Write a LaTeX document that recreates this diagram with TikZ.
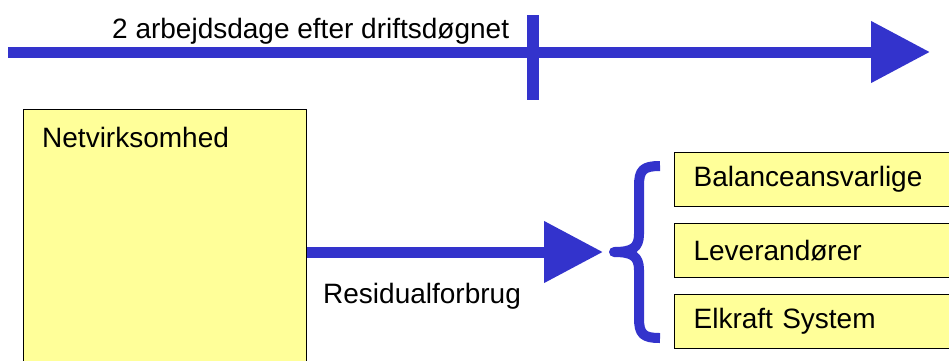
\documentclass[tikz,border=0pt]{standalone}
\usepackage{fontspec}
\setmainfont{Liberation Sans}
\usetikzlibrary{arrows.meta}
\definecolor{flowblue}{HTML}{3333CC}
\definecolor{boxyellow}{HTML}{FFFF99}
\tikzset{
  x=1pt, y=-1pt,
  every node/.style={
    font=\fontsize{28}{32}\selectfont,
    inner sep=0pt
  },
  ybox/.style={
    draw=black,
    fill=boxyellow,
    line width=1.2pt
  },
  rbox/.style={
    ybox,
    anchor=north west,
    minimum height=54pt,
    text width=270pt,
    inner xsep=19pt,
    align=left
  },
  flow/.style={
    draw=flowblue,
    line width=11pt
  },
  flowarrow/.style={
    flow,
    -{Triangle[length=59pt,width=59pt]}
  }
}

\begin{document}
\begin{tikzpicture}
    \useasboundingbox (0,0) rectangle (949,360);
    \begin{scope}
      \clip (0,0) rectangle (949,360);
      % time line
      \coordinate (tstart) at (8,52);
      \coordinate (tend) at (930,52);
      \draw[flowarrow] (tstart) -- (tend);
      \coordinate (ttop) at (533,15);
      \coordinate (tbot) at (533,100);
      \draw[flow, line width=12pt] (ttop) -- (tbot);
      \node[anchor=base west] (tlabel) at (112,38) {2 arbejdsdage efter driftsdøgnet};

      % boxes
      \node[ybox, anchor=north west, minimum width=283pt, minimum height=280pt] (net) at (23,109) {};
      \node[anchor=base west] (netlabel) at (42,147) {Netvirksomhed};
      \node[rbox] (bal) at (674,152) {Balanceansvarlige};
      \node[rbox] (lev) at (674,223) {Leverandører};
      \node[rbox] (elk) at (674,294) {Elkraft System};

      % residual arrow and brace
      \coordinate (rtip) at (603,252);
      \draw[flowarrow] (net.east |- rtip) -- (rtip);
      \node[anchor=base west] (reslabel) at (323,303) {Residualforbrug};
      \coordinate (btop) at (660,166);
      \coordinate (bmid) at (614,252);
      \coordinate (bbot) at (660,338);
      \draw[flow, line width=10pt, line join=round]
        (btop) .. controls (643,166) and (639,170) .. (639,186)
        -- (639,234) .. controls (639,248) and (632,252) .. (bmid)
        .. controls (632,252) and (639,256) .. (639,270)
        -- (639,318) .. controls (639,334) and (643,338) .. (bbot);
    \end{scope}
\end{tikzpicture}
\end{document}
